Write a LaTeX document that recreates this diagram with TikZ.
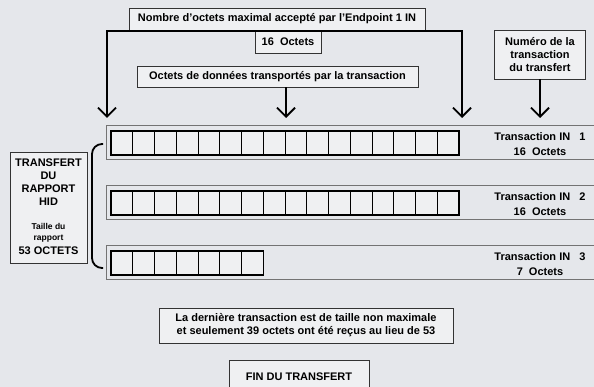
\documentclass[tikz,border=0pt]{standalone}
\usepackage{fontspec}
\setmainfont{Liberation Sans}
\usetikzlibrary{arrows.meta}
\definecolor{fondscan}{HTML}{E5E7EB}
\definecolor{fondboite}{HTML}{EFF0F2}
\newcommand{\petit}{\fontsize{8.5}{10.5}\selectfont}

\begin{document}
\begin{tikzpicture}[   % opciones por defecto
  x=1pt, y=-1pt,     % unidades en pixeles, eje y hacia abajo
  line width=1.8pt,  % linea gruesa de las flechas
  draw=black!100,    % linea negro 100%
  font=\fontsize{11}{13}\selectfont\bfseries
]
  \tikzstyle{boite}=[draw=black!80, line width=0.8pt, fill=fondboite, inner sep=2pt, align=center];
  \tikzstyle{fleche}=[-{Straight Barb[length=9pt,width=18pt,line width=1.8pt]}];
  \tikzstyle{fleches}=[{Straight Barb[length=9pt,width=18pt,line width=1.8pt]}-{Straight Barb[length=9pt,width=18pt,line width=1.8pt]}];
  \tikzstyle{cadre}=[draw=black!55, line width=1pt];
  \tikzstyle{case}=[draw, line width=0.8pt, fill=fondboite];
  %
  % fondo de la imagen
  \fill[fondscan] (0,0) rectangle (594,387);
  \useasboundingbox (0,0) rectangle (594,387);
  \clip (0,0) rectangle (594,387);
  %
  % cajas de arriba
  \node[boite, minimum width=296pt, minimum height=22pt] (maxi) at (277,19) {Nombre d'octets maximal accepté par l'Endpoint 1 IN};
  \node[boite, minimum width=66pt, minimum height=22pt] (seize) at (288,42) {16\ \ Octets};
  \node[boite, minimum width=281pt, minimum height=21pt] (donnees) at (277.5,76.5) {Octets de données transportés par la transaction};
  \node[boite, minimum width=91pt, minimum height=49pt] (numero) at (540,54.5) {Numéro de la\\transaction\\du transfert};
  %
  % puntas de las flechas
  \coordinate (pg) at (107,118);
  \coordinate (pm) at (286,118);
  \coordinate (pd) at (462,118);
  \coordinate (hg) at (107,31);
  \coordinate (hd) at (462,31);
  %
  % flechas hacia la primera transaccion
  \draw[fleches] (pg) -- (hg) -- (hd) -- (pd);
  \draw[fleche] (donnees.south -| pm) -- (pm);
  \draw[fleche] (numero.south) -- (numero.south |- pm);
  %
  % filas de casillas (transacciones)
  \foreach \r/\n/\h in {1/16/126, 2/16/186, 3/7/246} {
    \draw[cadre] (594,\h) -- (106,\h) -- (106,\h+34) -- (594,\h+34);
    \foreach \k in {1,...,\n}
      \draw[case] ({111+(\k-1)*21.75},\h+5) rectangle +(21.75,24);
    \node[draw, line width=1.3pt, inner sep=0pt, outer sep=0pt, anchor=north west,
      minimum width=\n*21.75pt, minimum height=24pt] (rang\r) at (111,\h+5) {};
    \node (trans\r) at (540,\h+11) {Transaction IN\ \ \ \r};
    \node (oct\r) at (540,\h+26) {\n\ \ Octets};
  }
  %
  % corchete del transfert
  \coordinate (ah) at (103,144);
  \coordinate (ab) at (103,268);
  \draw[rounded corners=10pt] (ah) -- (92,144) -- (92,268) -- (ab);
  %
  % caja de la izquierda
  \node[boite, minimum width=77pt, minimum height=111pt] (transfert) at (48.5,207.5) {};
  \node[align=center] (titretr) at (48.5,182.5) {TRANSFERT\\DU\\RAPPORT\\HID};
  \node[align=center, font=\petit\bfseries] (taille) at (48.5,233) {Taille du\\rapport};
  \node (total) at (48.5,251) {53 OCTETS};
  %
  % cajas de abajo
  \node[boite, minimum width=294pt, minimum height=35pt] (derniere) at (306,325.5) {La dernière transaction est de taille non maximale\\et seulement 39 octets ont été reçus au lieu de 53};
  \node[boite, minimum width=140pt, minimum height=34pt] (fin) at (299,377) {FIN DU TRANSFERT};
\end{tikzpicture}
\end{document}
